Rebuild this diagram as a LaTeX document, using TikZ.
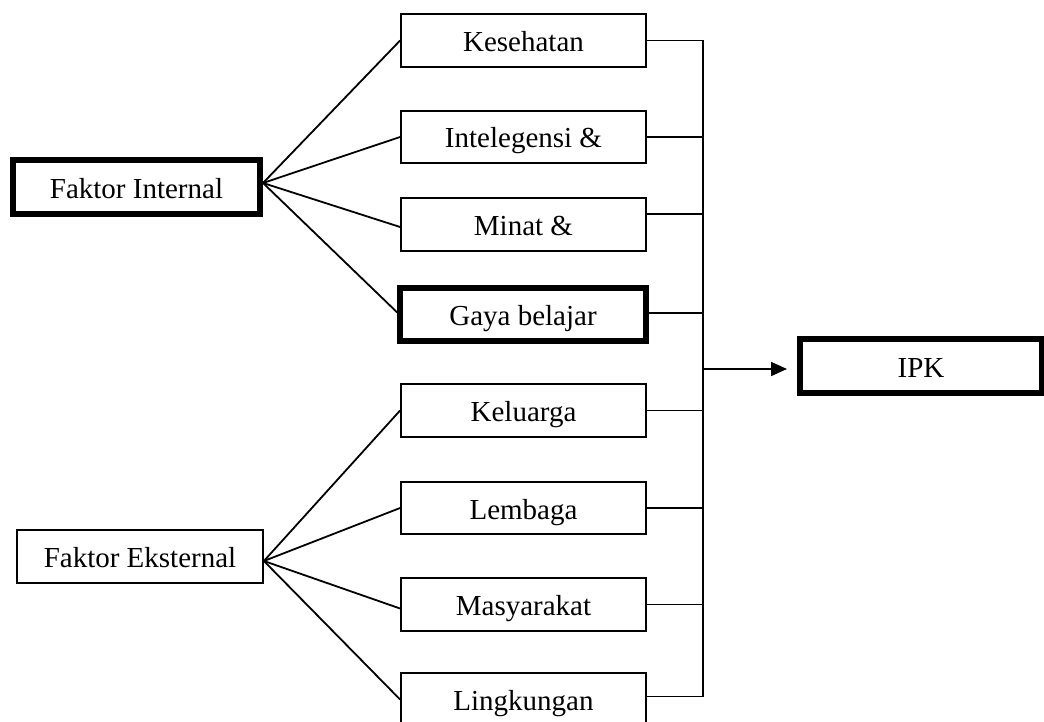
\documentclass[tikz,border=0pt]{standalone}
\usepackage{fontspec}
\setmainfont{Liberation Serif}
\usetikzlibrary{arrows.meta}
\begin{document}
\begin{tikzpicture}[x=1pt,y=-1pt,
  box/.style={draw, rectangle, line width=1.8pt, minimum width=245pt, minimum height=53pt,
    inner sep=0pt, text height=23pt, text depth=1pt, font=\fontsize{29}{34}\selectfont},
  thickbox/.style={box, line width=6pt},
  conn/.style={line width=1.8pt}]
\useasboundingbox (0,0) rectangle (1044,722);
% left factors
\node[thickbox, minimum width=247pt, minimum height=54pt] (fi) at (136.5,187.5) {Faktor Internal};
\node[box, minimum width=246pt] (fe) at (140,556.5) {Faktor Eksternal};
% middle boxes
\node[box] (kes) at (523.5,40.5) {Kesehatan};
\node[box, minimum height=52pt] (int) at (523.5,137) {Intelegensi \&};
\node[box] (min) at (523.5,224.5) {Minat \&};
\node[box, line width=5.5pt, minimum width=246pt] (gaya) at (523,314.5) {Gaya belajar};
\node[box] (kel) at (523.5,410.5) {Keluarga};
\node[box, minimum height=52pt] (lem) at (523.5,508) {Lembaga};
\node[box] (mas) at (523.5,604.5) {Masyarakat};
\node[box] (ling) at (523.5,699.5) {Lingkungan};
% result
\node[thickbox, minimum width=242pt, minimum height=54pt] (ipk) at (921,366) {IPK};
% fan-out from internal
\coordinate (fip) at ([yshift=4.5pt]fi.east);
\draw[conn] (fip) -- (kes.west);
\draw[conn] (fip) -- (int.west);
\draw[conn] (fip) -- ([yshift=-2.5pt]min.west);
\draw[conn] (fip) -- ([yshift=2pt]gaya.west);
% fan-out from external
\coordinate (fep) at ([yshift=-4.5pt]fe.east);
\draw[conn] (fep) -- (kel.west);
\draw[conn] (fep) -- (lem.west);
\draw[conn] (fep) -- ([yshift=-4pt]mas.west);
\draw[conn] (fep) -- (ling.west);
% bus
\coordinate (bus) at (703,0);
\coordinate (btop) at (kes.east -| bus);
\coordinate (bbot) at ([yshift=3pt]ling.east -| bus);
\draw[conn] (btop) -- (bbot);
\draw[conn] (kes.east) -- (btop);
\draw[conn] (int.east) -- (int.east -| bus);
\draw[conn] ([yshift=10.5pt]min.east) -- ([yshift=10.5pt]min.east -| bus);
\draw[conn] ([yshift=1.5pt]gaya.east) -- ([yshift=1.5pt]gaya.east -| bus);
\draw[conn] (kel.east) -- (kel.east -| bus);
\draw[conn] (lem.east) -- (lem.east -| bus);
\draw[conn] (mas.east) -- (mas.east -| bus);
\draw[conn] ([yshift=3pt]ling.east) -- (bbot);
% arrow to IPK
\coordinate (jn) at (703,369);
\draw[conn, -{Triangle[length=16pt,width=14pt]}, shorten >=10pt] (jn) -- (jn -| ipk.west);
\end{tikzpicture}
\end{document}
